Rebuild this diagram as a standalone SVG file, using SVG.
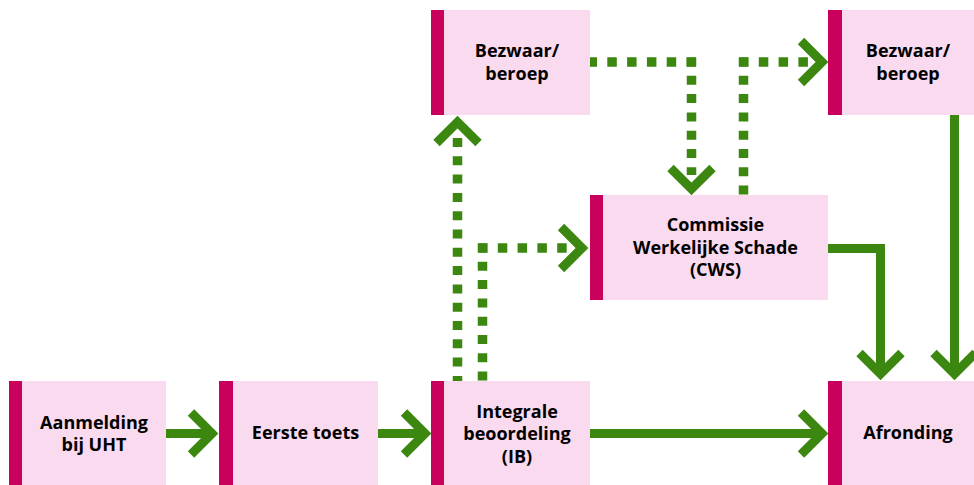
<svg xmlns="http://www.w3.org/2000/svg" width="974" height="485" viewBox="0 0 974 485">
  <style>
    .box { fill: #fadaee; }
    .bar { fill: #ca005d; }
    .lbl { font-family: "Open Sans", "Liberation Sans", sans-serif; font-weight: 700; font-size: 18px; fill: #000; text-anchor: middle; }
    .solid { fill: none; stroke: #3b870f; stroke-width: 9; stroke-linejoin: miter; stroke-miterlimit: 10; }
    .chev { fill: none; stroke: #3b870f; stroke-width: 9; stroke-linejoin: miter; stroke-miterlimit: 10; }
    .dot-h { fill: none; stroke: #3b870f; stroke-width: 9.5; stroke-dasharray: 9.5 10.3; }
    .dot-v { fill: none; stroke: #3b870f; stroke-width: 9.5; stroke-dasharray: 9 9.3; }
  </style>
  <rect width="974" height="485" fill="#ffffff"/>

  <g id="connectors">
    <!-- solid arrows -->
    <path class="solid" d="M166,433.5 H212"/>
    <path class="chev" d="M191,412.5 L212,433.5 L191,454.5"/>
    <path class="solid" d="M378,433.5 H425"/>
    <path class="chev" d="M404,412.5 L425,433.5 L404,454.5"/>
    <path class="solid" d="M590,433.5 H822"/>
    <path class="chev" d="M801,412.5 L822,433.5 L801,454.5"/>
    <path class="solid" d="M828,248.5 H880.5 V374"/>
    <path class="chev" d="M859.5,353 L880.5,374 L901.5,353"/>
    <path class="solid" d="M954.5,115 V374"/>
    <path class="chev" d="M933.5,353 L954.5,374 L975.5,353"/>

    <!-- dotted: Integrale -> Bezwaar (left) -->
    <path class="dot-v" d="M457.5,138 V381"/>
    <path class="chev" d="M436.5,143 L457.5,122 L478.5,143"/>

    <!-- dotted: Integrale -> CWS -->
    <path class="dot-v" d="M482.5,243.5 V381"/>
    <path class="dot-h" d="M478,248 H570"/>
    <path class="chev" d="M561,227 L582,248 L561,269"/>

    <!-- dotted: Bezwaar (left) -> CWS -->
    <path class="dot-h" d="M696,62 H586"/>
    <path class="dot-v" d="M691.5,57.5 V175"/>
    <path class="chev" d="M670.5,168 L691.5,189 L712.5,168"/>

    <!-- dotted: CWS -> Bezwaar (right) -->
    <path class="dot-v" d="M743.5,57.5 V195"/>
    <path class="dot-h" d="M739,62 H810"/>
    <path class="chev" d="M801,41 L822,62 L801,83"/>
  </g>

  <g id="node-aanmelding">
    <rect class="box" x="22" y="381" width="144" height="104"/>
    <rect class="bar" x="9" y="381" width="13" height="104"/>
    <text class="lbl" x="94" y="429">Aanmelding</text>
    <text class="lbl" x="94" y="451">bij UHT</text>
  </g>

  <g id="node-eerste-toets">
    <rect class="box" x="233" y="381" width="145" height="104"/>
    <rect class="bar" x="219" y="381" width="14" height="104"/>
    <text class="lbl" x="305.5" y="438.5">Eerste toets</text>
  </g>

  <g id="node-integrale">
    <rect class="box" x="444" y="381" width="146" height="104"/>
    <rect class="bar" x="431" y="381" width="13" height="104"/>
    <text class="lbl" x="517" y="417.5">Integrale</text>
    <text class="lbl" x="517" y="440">beoordeling</text>
    <text class="lbl" x="517" y="462.5">(IB)</text>
  </g>

  <g id="node-afronding">
    <rect class="box" x="842" y="381" width="132" height="104"/>
    <rect class="bar" x="828" y="381" width="14" height="104"/>
    <text class="lbl" x="908" y="438.5">Afronding</text>
  </g>

  <g id="node-bezwaar-1">
    <rect class="box" x="444" y="10" width="146" height="105"/>
    <rect class="bar" x="431" y="10" width="13" height="105"/>
    <text class="lbl" x="517" y="57">Bezwaar/</text>
    <text class="lbl" x="517" y="79.5">beroep</text>
  </g>

  <g id="node-bezwaar-2">
    <rect class="box" x="842" y="10" width="132" height="105"/>
    <rect class="bar" x="828" y="10" width="14" height="105"/>
    <text class="lbl" x="908" y="57">Bezwaar/</text>
    <text class="lbl" x="908" y="79.5">beroep</text>
  </g>

  <g id="node-cws">
    <rect class="box" x="603" y="195" width="225" height="105"/>
    <rect class="bar" x="590" y="195" width="13" height="105"/>
    <text class="lbl" x="715.5" y="231">Commissie</text>
    <text class="lbl" x="715.5" y="253.5">Werkelijke Schade</text>
    <text class="lbl" x="715.5" y="276">(CWS)</text>
  </g>
</svg>
